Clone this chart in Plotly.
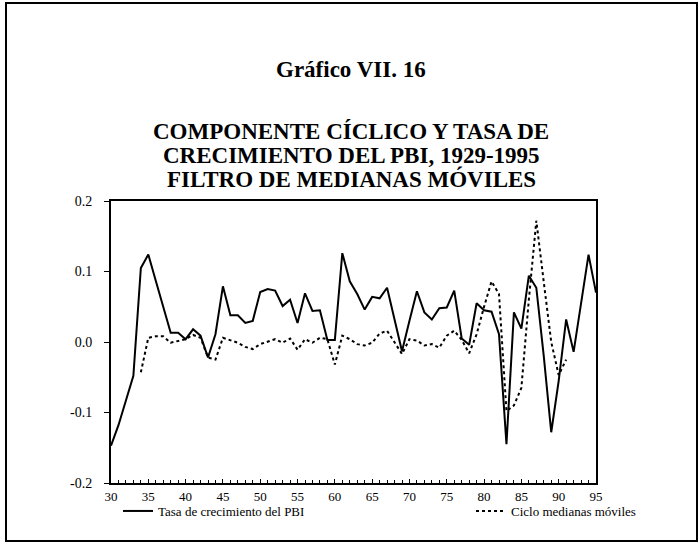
import plotly.graph_objects as go

# Years 1930-1995 (growth rate series) and 1934-1991 (moving-median cycle)
years = list(range(1930, 1996))
growth_rate = [
    -0.147, -0.118, -0.083, -0.048, 0.105, 0.124, 0.087, 0.050, 0.013, 0.013,
    0.004, 0.018, 0.009, -0.022, 0.011, 0.079, 0.038, 0.038, 0.027, 0.030,
    0.071, 0.075, 0.073, 0.051, 0.060, 0.027, 0.069, 0.044, 0.045, 0.003,
    0.003, 0.126, 0.086, 0.068, 0.046, 0.064, 0.062, 0.077, 0.032, -0.013,
    0.030, 0.072, 0.042, 0.032, 0.048, 0.049, 0.073, 0.005, -0.004, 0.055,
    0.045, 0.043, 0.011, -0.145, 0.042, 0.019, 0.094, 0.077, -0.020, -0.128,
    -0.055, 0.032, -0.014, 0.055, 0.124, 0.070,
]

cycle_years = list(range(1934, 1992))
median_cycle = [
    -0.043, 0.006, 0.008, 0.008, -0.001, 0.001, 0.004, 0.010, 0.006, -0.022,
    -0.025, 0.006, 0.002, -0.001, -0.007, -0.010, -0.003, 0.000, 0.004, -0.001,
    0.005, -0.011, 0.004, -0.001, 0.006, 0.004, -0.032, 0.009, 0.004, -0.003,
    -0.005, -0.001, 0.012, 0.016, 0.000, -0.017, 0.004, 0.002, -0.005, -0.003,
    -0.008, 0.009, 0.016, 0.003, -0.016, 0.011, 0.050, 0.086, 0.068, -0.098,
    -0.090, -0.065, 0.060, 0.172, 0.085, 0.000, -0.047, -0.025,
]

x_tick_vals = list(range(1930, 1996, 5))
x_tick_text = ["30", "35", "40", "45", "50", "55", "60", "65", "70", "75", "80", "85", "90", "95"]
y_tick_vals = [-0.2, -0.1, 0.0, 0.1, 0.2]
y_tick_text = ["-0.2", "-0.1", "0.0", "0.1", "0.2"]

SERIF = "Liberation Serif, Times New Roman, serif"

W, H = 700, 556
L, R, T, B = 111, 104, 201, 73
plot_w = W - L - R
plot_h = H - T - B


def px(xp):
    return (xp - L) / plot_w


def py(yp):
    return (H - B - yp) / plot_h


fig = go.Figure()
fig.add_trace(go.Scatter(
    x=years, y=growth_rate, mode="lines",
    name="Tasa de crecimiento del PBI",
    line=dict(color="black", width=2),
    legend="legend",
))
fig.add_trace(go.Scatter(
    x=cycle_years, y=median_cycle, mode="lines",
    name="Ciclo medianas móviles",
    line=dict(color="black", width=2, dash="dot"),
    legend="legend2",
))

legend_style = dict(
    orientation="h", xanchor="left", yanchor="middle",
    font=dict(family=SERIF, size=13, color="black"),
    bgcolor="rgba(0,0,0,0)", itemwidth=30,
)

fig.update_layout(
    width=W, height=H,
    margin=dict(l=L, r=R, t=T, b=B),
    paper_bgcolor="white", plot_bgcolor="white",
    font=dict(family=SERIF, color="black", size=13),
    showlegend=True,
    legend=dict(x=px(118), y=py(511), **legend_style),
    legend2=dict(x=px(471), y=py(511), **legend_style),
)

fig.update_xaxes(
    range=[1930, 1995], tickvals=x_tick_vals, ticktext=x_tick_text,
    showline=True, linecolor="black", linewidth=2, mirror=True,
    ticks="inside", ticklen=4, tickwidth=1, tickcolor="black",
    minor=dict(dtick=1, ticks="inside", ticklen=3, tickcolor="black", tickwidth=1),
    showgrid=False, zeroline=False,
    tickfont=dict(family=SERIF, size=13, color="black"),
)
fig.update_yaxes(
    range=[-0.2, 0.2], tickvals=y_tick_vals, ticktext=y_tick_text,
    showline=True, linecolor="black", linewidth=2, mirror=True,
    ticks="outside", ticklen=5, tickwidth=1, tickcolor="black",
    ticklabelstandoff=9,
    showgrid=False, zeroline=False,
    tickfont=dict(family=SERIF, size=14, color="black"),
)

# Heading lines
heading = [
    ("<b>Gráfico VII. 16</b>", 70, 23),
    ("<b>COMPONENTE CÍCLICO Y TASA DE</b>", 132, 23),
    ("<b>CRECIMIENTO DEL PBI, 1929-1995</b>", 155.5, 23),
    ("<b>FILTRO DE MEDIANAS MÓVILES</b>", 178.5, 23),
]
for text, ypix, size in heading:
    fig.add_annotation(
        text=text, xref="paper", yref="paper", x=px(351), y=py(ypix),
        xanchor="center", yanchor="middle", showarrow=False,
        font=dict(family=SERIF, size=size, color="black"),
    )

# Outer frame
fig.add_shape(
    type="rect", xref="paper", yref="paper",
    x0=px(6), x1=px(697), y0=py(541), y1=py(3),
    line=dict(color="black", width=2), fillcolor="rgba(0,0,0,0)", layer="above",
)

fig.write_html("out.html")
